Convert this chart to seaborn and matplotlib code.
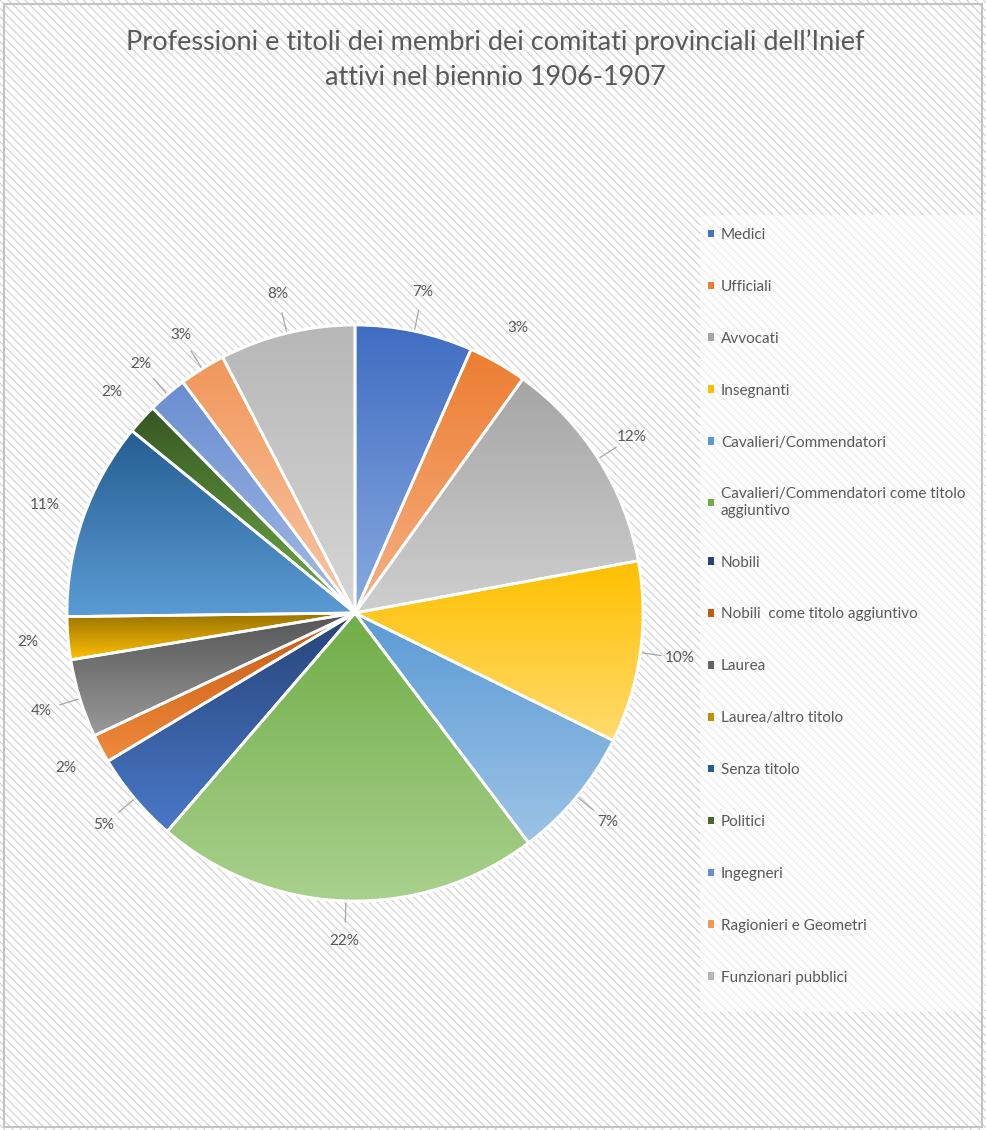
import numpy as np
import matplotlib
matplotlib.use("Agg")
import matplotlib.pyplot as plt
import seaborn as sns
from matplotlib.patches import Rectangle, PathPatch
from matplotlib.colors import LinearSegmentedColormap

# ---------------- data ----------------
categories = [
    "Medici", "Ufficiali", "Avvocati", "Insegnanti", "Cavalieri/Commendatori",
    "Cavalieri/Commendatori come titolo\naggiuntivo", "Nobili",
    "Nobili  come titolo aggiuntivo", "Laurea", "Laurea/altro titolo",
    "Senza titolo", "Politici", "Ingegneri", "Ragionieri e Geometri",
    "Funzionari pubblici",
]
shares = [6.6, 3.3, 12.2, 10.2, 7.4, 21.6, 5.1, 1.6, 4.4, 2.4, 11.1, 1.7, 2.2, 2.6, 7.6]

title = "Professioni e titoli dei membri dei comitati provinciali dell\u2019Inief\nattivi nel biennio 1906-1907"

# ---------------- style ----------------
top_colors = ["#3f6dc2", "#ed7d31", "#a5a5a5", "#ffc000", "#5b9bd5", "#70ad47",
              "#264478", "#c55a11", "#555555", "#997300", "#255e91", "#375623",
              "#698ed0", "#f1975a", "#b7b7b7"]
bottom_colors = ["#8aaae0", "#f5b184", "#cfcfcf", "#ffdb6e", "#9dc3e6", "#a9d18e",
                 "#4a78c8", "#f08a3c", "#9a9a9a", "#ffc000", "#5b9bd5", "#70ad47",
                 "#a4bbe6", "#f8c7a6", "#d6d6d6"]
legend_colors = ["#4472c4", "#ed7d31", "#a5a5a5", "#ffc000", "#5b9bd5", "#70ad47",
                 "#264478", "#c55a11", "#636363", "#c09000", "#255e91", "#43682b",
                 "#698ed0", "#f1975a", "#b7b7b7"]
has_leader = [True, False, True, True, True, True, True, False, True, False,
              False, False, True, True, True]
text_color = "#595959"

sns.set_theme(style="white")
plt.rcParams['font.family'] = ['Lato', 'DejaVu Sans']
plt.rcParams['hatch.linewidth'] = 0.8

W, H = 986, 1130
fig = plt.figure(figsize=(W / 100, H / 100), dpi=100)

# hatched background
bg = Rectangle((0, 0), 1, 1, transform=fig.transFigure, facecolor="white",
               edgecolor="#d0d0d0", hatch="\\\\\\\\", linewidth=0, zorder=-10)
fig.patches.append(bg)
# legend background panel
lg_bg = Rectangle((700 / W, 1 - 1012 / H), 285 / W, (1012 - 215) / H,
                  transform=fig.transFigure, facecolor="white", alpha=0.6,
                  linewidth=0, zorder=-9)
fig.patches.append(lg_bg)
border = Rectangle((4 / W, 3 / H), 978 / W, 1123 / H, transform=fig.transFigure,
                   fill=False, edgecolor="#c4c4c4", linewidth=1.5, zorder=-8)
fig.patches.append(border)

# pie axes: center (355, 613) px, radius ~288 px
L = 1.2
R = 288
side = 2 * L * R
cx, cy = 355, 613
ax = fig.add_axes([(cx - side / 2) / W, 1 - (cy + side / 2) / H, side / W, side / H])
ax.set_facecolor("none")

wedges, texts, autotexts = ax.pie(
    shares, startangle=90, counterclock=False, radius=1.0,
    colors=top_colors, autopct=lambda p: f"{p:.0f}%", pctdistance=1.14,
    wedgeprops=dict(edgecolor="white", linewidth=2),
    textprops=dict(color=text_color, fontsize=11),
)

grad = np.linspace(0, 1, 256).reshape(-1, 1)
for w, c0, c1 in zip(wedges, top_colors, bottom_colors):
    ext = w.get_path().get_extents()
    cmap = LinearSegmentedColormap.from_list("g", [c0, c1])
    im = ax.imshow(grad, cmap=cmap, extent=[ext.x0, ext.x1, ext.y0, ext.y1],
                   aspect="auto", zorder=1.5, interpolation="bilinear")
    im.set_clip_path(w)
    ax.add_patch(PathPatch(w.get_path(), fill=False, edgecolor="white",
                           linewidth=2, zorder=3))

for w, lead in zip(wedges, has_leader):
    if lead:
        th = np.deg2rad((w.theta1 + w.theta2) / 2)
        r = np.array([1.005, 1.075])
        ax.plot(r * np.cos(th), r * np.sin(th), color="#a6a6a6", lw=0.9,
                zorder=2, solid_capstyle="butt")

ax.set_xlim(-L, L)
ax.set_ylim(-L, L)
ax.set_aspect("equal")
ax.axis("off")

# title
fig.text(495 / W, 1 - 60 / H, title, ha="center", va="center", fontsize=19.5,
         color=text_color, linespacing=1.5)

# legend
handles = [Rectangle((0, 0), 1, 1, facecolor=c, edgecolor="none") for c in legend_colors]
fig.legend(handles, categories, loc="upper left",
           bbox_to_anchor=(708 / W, 1 - 228 / H), frameon=False,
           fontsize=11, labelcolor=text_color, handlelength=0.4,
           handleheight=0.4, handletextpad=0.45, labelspacing=2.48,
           borderaxespad=0, borderpad=0)

fig.savefig("out.png", dpi=100)
